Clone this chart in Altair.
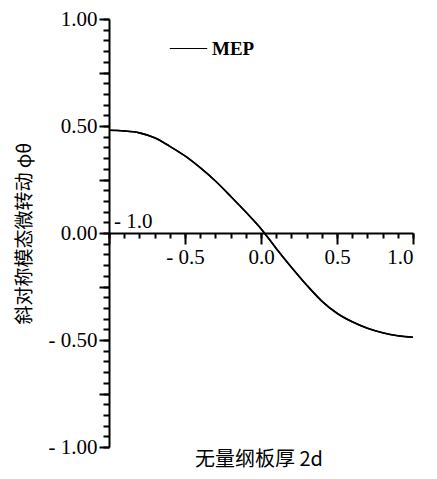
import altair as alt
import pandas as pd

# data
thickness = [-1.0, -0.9, -0.8, -0.7, -0.6, -0.5, -0.4, -0.3, -0.2, -0.1, 0.0,
             0.1, 0.2, 0.3, 0.4, 0.5, 0.6, 0.7, 0.8, 0.9, 1.0]
rotation = [0.480, 0.477, 0.468, 0.445, 0.405, 0.360, 0.305, 0.243, 0.172, 0.098, 0.020,
            -0.072, -0.160, -0.243, -0.318, -0.375, -0.415, -0.445, -0.466, -0.480, -0.487]
series = ["MEP"] * len(thickness)

y_major = [-1.0, -0.75, -0.5, -0.25, 0.0, 0.25, 0.5, 0.75, 1.0]
y_minor = [round(-1 + 0.05 * i, 2) for i in range(41)]
x_major = [-1.0, -0.5, 0.0, 0.5, 1.0]
x_minor = [round(-1 + 0.1 * i, 1) for i in range(21)]

df = pd.DataFrame({"x": thickness, "y": rotation, "s": series})

SERIF = "Liberation Serif"
CJK = "Noto Sans CJK SC"
H = 428
W = 304

xscale = alt.Scale(domain=[-1, 1], nice=False, zero=False)
yscale = alt.Scale(domain=[-1, 1], nice=False, zero=False)

x_axis_major = alt.Axis(
    values=x_major, orient="bottom", offset=-(H / 2), grid=False,
    domainColor="black", domainWidth=2, tickColor="black", tickWidth=2, tickSize=11,
    labelExpr="datum.value < -0.99 ? '' : (datum.value < 0 ? '- ' + format(abs(datum.value), '.1f') : format(datum.value, '.1f'))",
    labelFont=SERIF, labelFontSize=21, labelColor="black", labelPadding=2,
    title=None,
)
x_axis_minor = alt.Axis(
    values=x_minor, orient="bottom", offset=-(H / 2), grid=False, domain=False,
    tickColor="black", tickWidth=2, tickSize=5, labels=False, title=None,
)

y_axis_major = alt.Axis(
    values=y_major, orient="left", grid=False,
    domainColor="black", domainWidth=2, tickColor="black", tickWidth=2, tickSize=10,
    labelExpr="(abs(datum.value*2 - round(datum.value*2)) < 0.001) ? (datum.value < -0.001 ? '- ' + format(abs(datum.value), '.2f') : format(abs(datum.value), '.2f')) : ''",
    labelFont=SERIF, labelFontSize=21, labelColor="black", labelPadding=2,
    title="斜对称模态微转动 φθ", titleFont=CJK, titleFontSize=19, titleFontWeight="normal",
    titleColor="black", titleX=-85, titleBaseline="middle", titleAlign="center", titleAngle=270,
)
y_axis_minor = alt.Axis(
    values=y_minor, orient="left", grid=False, domain=False,
    tickColor="black", tickWidth=2, tickSize=6, labels=False, title=None,
)

legend = alt.Legend(title=None, orient="none", legendX=60, legendY=10,
                    symbolType="stroke", symbolSize=1400, symbolStrokeWidth=1.2,
                    labelFont=SERIF, labelFontSize=19, labelColor="black",
                    labelFontWeight="bold")

line = alt.Chart(df).mark_line(strokeWidth=1.6, interpolate="monotone").encode(
    x=alt.X("x:Q", scale=xscale, axis=x_axis_major),
    y=alt.Y("y:Q", scale=yscale, axis=y_axis_major),
    color=alt.Color("s:N", scale=alt.Scale(range=["black"]), legend=legend),
)

minor = alt.Chart(df).mark_line(strokeWidth=1.6, interpolate="monotone", color="black").encode(
    x=alt.X("x:Q", scale=xscale, axis=x_axis_minor),
    y=alt.Y("y:Q", scale=yscale, axis=y_axis_minor),
)

neg_label = alt.Chart(pd.DataFrame({"x": [-1.0], "y": [0.0], "t": ["- 1.0"]})).mark_text(
    font=SERIF, fontSize=21, align="left", baseline="alphabetic", dx=5, dy=-5, color="black"
).encode(x=alt.X("x:Q", scale=xscale, axis=None), y=alt.Y("y:Q", scale=yscale, axis=None), text="t:N")

xtitle = alt.Chart(pd.DataFrame({"t": ["无量纲板厚 2d"]})).mark_text(
    font=CJK, fontSize=20, align="center", baseline="middle", color="black"
).encode(x=alt.value(150), y=alt.value(441), text="t:N")

chart = alt.layer(line, minor, neg_label, xtitle).resolve_scale(
    x="independent", y="independent"
).properties(
    width=W, height=H,
    padding={"left": 7, "top": 0, "right": 5, "bottom": 0},
).configure_view(strokeWidth=0)

chart.save("out.html", embed_options={"renderer": "svg", "actions": False})
